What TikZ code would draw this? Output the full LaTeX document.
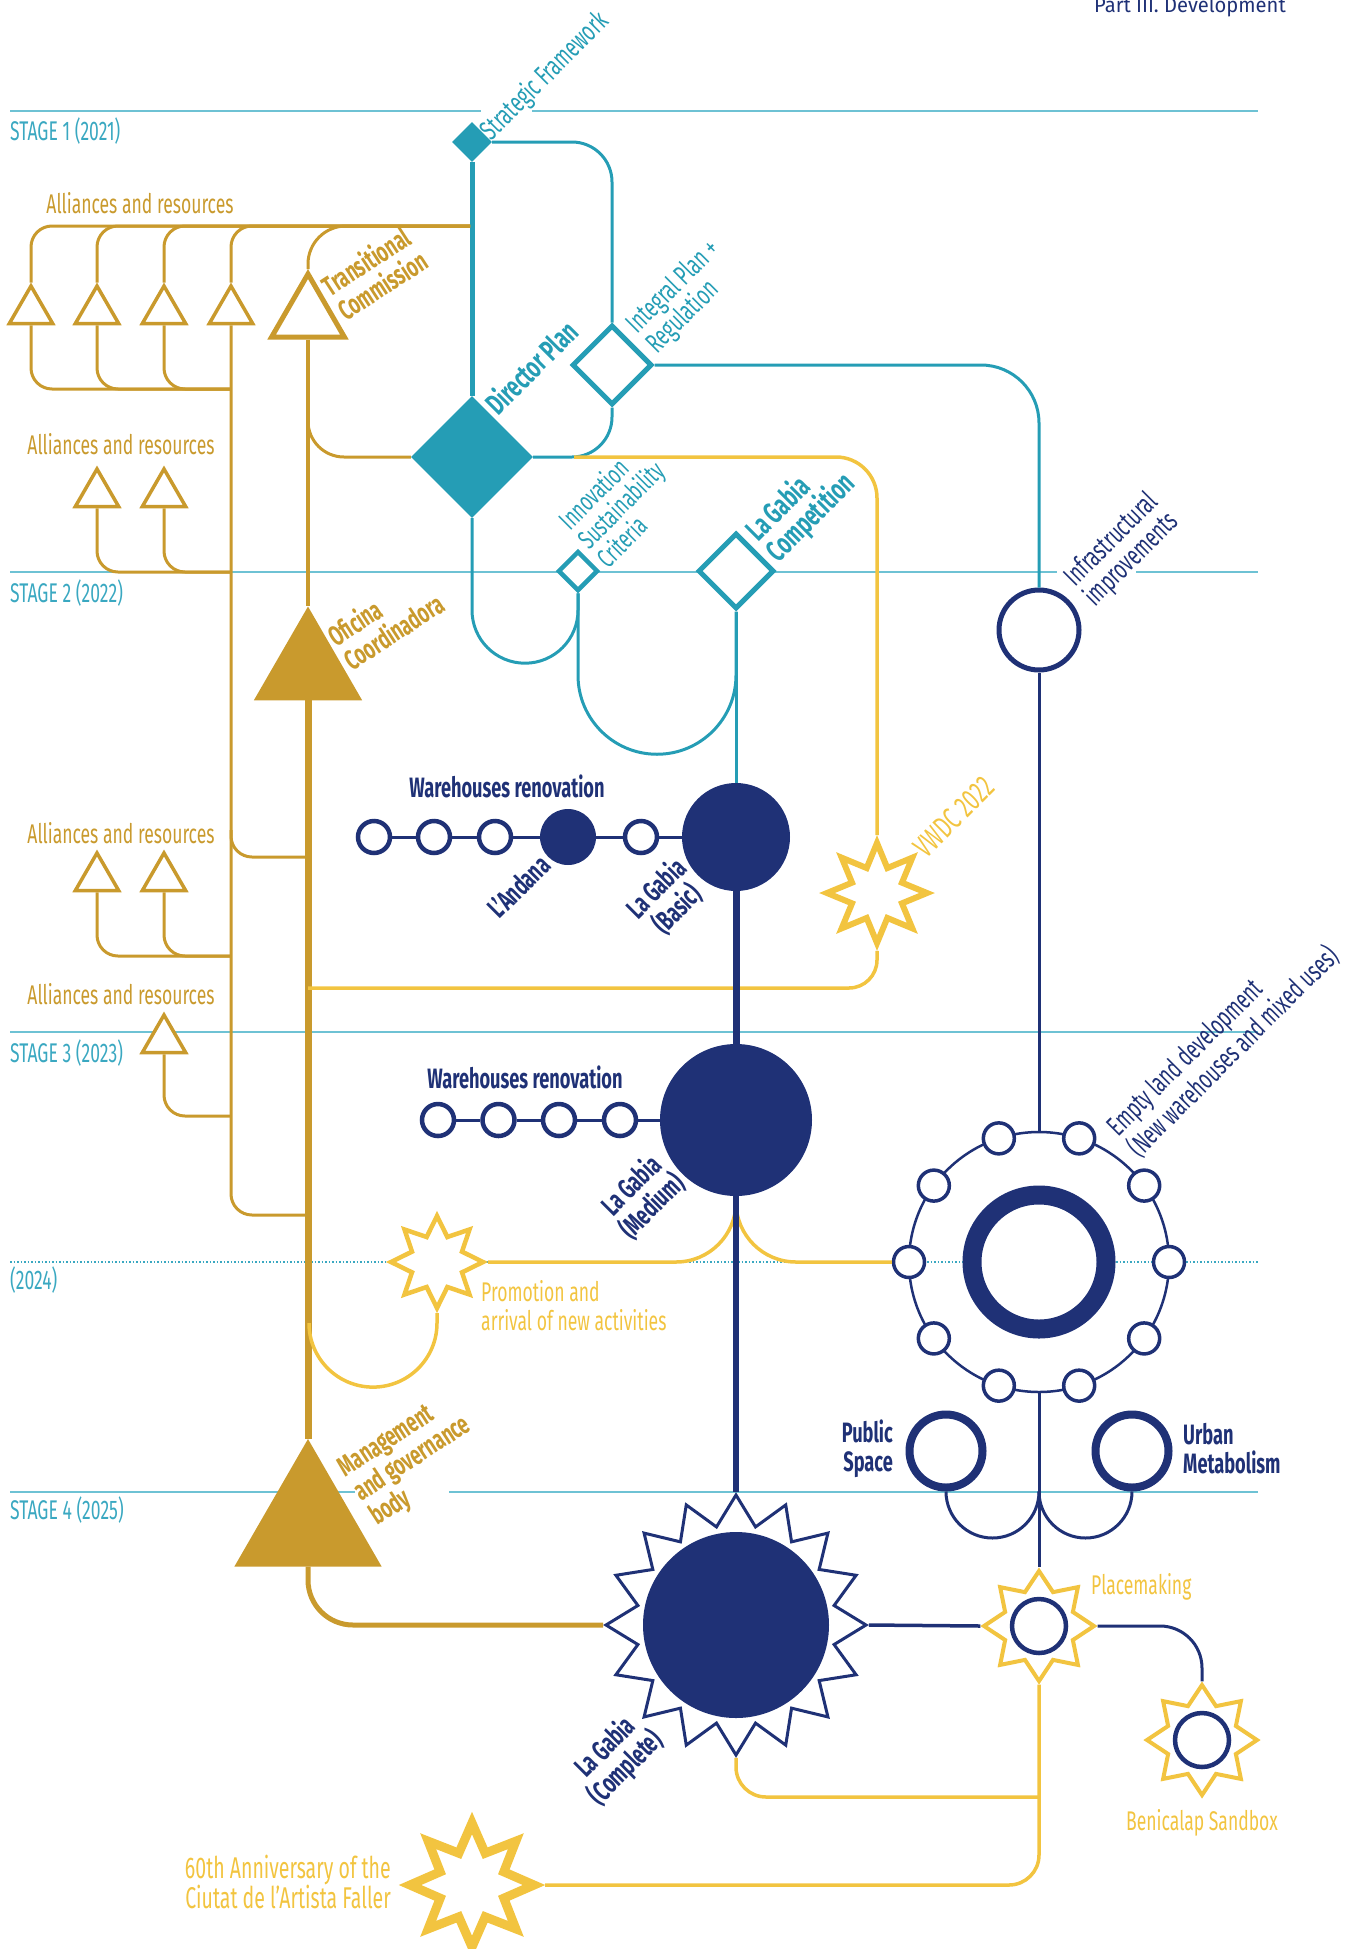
\documentclass[tikz,border=0pt]{standalone}
\usepackage{fontspec}
\setmainfont{Fira Sans}[FakeStretch=0.65]
\newfontfamily\partfont{Fira Sans}[FakeStretch=0.96]
\usetikzlibrary{shapes.geometric}

\definecolor{tealc}{HTML}{259DB5}
\definecolor{stagec}{HTML}{6EC2D4}
\definecolor{stagetxt}{HTML}{3AA8C1}
\definecolor{navyc}{HTML}{1F3176}
\definecolor{goldc}{HTML}{C99A2D}
\definecolor{yellowc}{HTML}{F2C440}

\tikzset{
  lbl/.style={inner sep=0, font=\fontsize{27}{29}\selectfont},
  rlbl/.style={inner sep=0, font=\fontsize{28}{28}\selectfont},
  blbl/.style={inner sep=0, font=\fontsize{28}{29}\selectfont\bfseries},
  stageline/.style={draw=stagec, line width=2},
  triout/.style={regular polygon, regular polygon sides=3, draw=goldc, fill=white, line width=3.5, minimum size=50, inner sep=0},
  trifill/.style={regular polygon, regular polygon sides=3, fill=goldc, inner sep=0},
  whcirc/.style={circle, draw=navyc, fill=white, line width=4.5, minimum size=32, inner sep=0},
  ystar/.style={star, star points=8, draw=yellowc, fill=white, inner sep=0},
  tline/.style={draw=tealc, line width=3},
  gline/.style={draw=goldc, line width=3},
  nline/.style={draw=navyc, line width=3},
  yline/.style={draw=yellowc, line width=3.5},
}

\begin{document}
\begin{tikzpicture}[x=1pt,y=1pt,yscale=-1,xscale=1]
    \useasboundingbox (0,0) rectangle (1360,1949);

    %Straight Lines [stages]
    \draw[stageline] (10,110.5) -- (481,110.5) ;
    \draw[stageline] (532,110.5) -- (1258,110.5) ;
    \draw[stageline] (10,572) -- (1057,572) ;
    \draw[stageline] (1136,572) -- (1258,572) ;
    \draw[stageline] (10,1032) -- (1258,1032) ;
    \draw[stagetxt, line width=1.5, dotted] (10,1262) -- (1258,1262) ;
    \draw[stageline] (10,1492) -- (355,1492) ;
    \draw[stageline] (449,1492) -- (1258,1492) ;

    %Shape: Diamond [teal plans]
    \node[diamond, fill=tealc, minimum size=40, inner sep=0] (sf) at (472,142) {};
    \node[diamond, fill=tealc, minimum size=122, inner sep=0] (dp) at (472,457) {};
    \node[diamond, draw=tealc, fill=white, line width=5, minimum size=80, inner sep=0] (ip) at (612,365) {};
    \node[diamond, draw=tealc, fill=white, line width=4.5, minimum size=40, inner sep=0] (inno) at (578,571) {};
    \node[diamond, draw=tealc, fill=white, line width=5, minimum size=76, inner sep=0] (lgc) at (736,571) {};

    %Shape: Triangle [governance]
    \node[triout, minimum size=84, line width=5] (tc) at (308,316) {};
    \node[trifill, minimum size=125] (of) at (308,669) {};
    \node[trifill, minimum size=170] (mg) at (308,1524) {};
    \foreach \n/\x in {a1/31,a2/97,a3/164,a4/231}
      \node[triout] (\n) at (\x,311) {};
    \node[triout] (b1) at (97,494) {};
    \node[triout] (b2) at (164,494) {};
    \node[triout] (c1) at (97,878) {};
    \node[triout] (c2) at (164,878) {};
    \node[triout] (d1) at (164,1040) {};

    %Shape: Circle [La Gabia and warehouses]
    \node[circle, draw=navyc, fill=white, line width=5, minimum size=80, inner sep=0] (infra) at (1039,630) {};
    \node[circle, fill=navyc, minimum size=108, inner sep=0] (lgb) at (736,837) {};
    \node[circle, fill=navyc, minimum size=152, inner sep=0] (lgm) at (736,1120) {};
    \node[whcirc] (w1) at (374,837) {};
    \node[whcirc] (w2) at (434,837) {};
    \node[whcirc] (w3) at (495,837) {};
    \node[circle, fill=navyc, minimum size=56, inner sep=0] (and) at (568,837) {};
    \node[whcirc] (w5) at (641,837) {};
    \foreach \n/\x in {v1/438,v2/498.5,v3/559,v4/620}
      \node[whcirc] (\n) at (\x,1120) {};

    %Shape: Ring [empty land]
    \node[circle, draw=navyc, line width=2.5, minimum size=260, inner sep=0] (ring) at (1039,1262) {};
    \foreach \k in {0,...,9}
      \path (ring.center) ++(\k*36:130) node[whcirc, line width=3.5, minimum size=31] (e\k) {};
    \node[circle, draw=navyc, fill=white, line width=19, minimum size=134, inner sep=0] (ringin) at (1039,1262) {};
    \node[circle, draw=navyc, fill=white, line width=8, minimum size=73, inner sep=0] (ps) at (946,1451) {};
    \node[circle, draw=navyc, fill=white, line width=8, minimum size=73, inner sep=0] (um) at (1132,1451) {};

    %Shape: Star [La Gabia complete]
    \node[star, star points=16, star point ratio=1.3, draw=navyc, fill=white, line width=3, minimum size=260, inner sep=0] (lgcs) at (736,1625) {};
    \node[circle, fill=navyc, minimum size=186, inner sep=0] (lgcc) at (736,1625) {};

    %Shape: Star [events]
    \node[ystar, line width=4, minimum size=110, star point ratio=1.5] (pm) at (1039,1626) {};
    \node[circle, draw=navyc, fill=white, line width=4.5, minimum size=54, inner sep=0] (pmc) at (1039,1626) {};
    \node[ystar, line width=4, minimum size=110, star point ratio=1.5] (ben) at (1202,1740) {};
    \node[circle, draw=navyc, fill=white, line width=4.5, minimum size=54, inner sep=0] (benc) at (1202,1740) {};
    \node[ystar, line width=6, minimum size=100, star point ratio=1.85] (vwdc) at (877,893) {};
    \node[ystar, line width=4.5, minimum size=92, star point ratio=1.7] (promo) at (437,1262) {};
    \node[ystar, line width=9, minimum size=124, star point ratio=1.8] (anniv) at (472,1885) {};

    %Coordinates [joints]
    \coordinate (gtop) at (470,226);
    \coordinate (gb1) at (231,389);
    \coordinate (gb2) at (231,572);
    \coordinate (gb3) at (231,956);
    \coordinate (gb4) at (231,1116);
    \coordinate (gt1) at (308,1215);
    \coordinate (tb) at (231,830);
    \coordinate (gt2) at (308,857);
    \coordinate (gdp) at (308,400);
    \coordinate (ydp) at (574,457);
    \coordinate (yv) at (308,988);
    \coordinate (yj) at (1039,1797);

    %Straight Lines [teal]
    \draw[tline, line width=5] (sf.south) -- (dp.north) ;
    \draw[tline, rounded corners=40] (sf.east) -| (ip.north) ;
    \draw[tline, rounded corners=40] (dp.east) -| (ip.south) ;
    \draw[tline, rounded corners=58] (ip.east) -| (infra.north) ;
    \draw[tline] (dp.south) -- ++(0,92) arc (180:0:53) -- (inno.south) ;
    \draw[tline] (inno.south) -- ++(0,82) arc (180:0:79) -- (lgc.south) ;
    \draw[tline] (lgc.south) -- (lgb.north) ;

    %Straight Lines [gold]
    \foreach \n in {a1,a2,a3,a4}
      \draw[gline, rounded corners=21] (\n.north) |- (gtop) ;
    \draw[gline, rounded corners=38] (tc.north) |- (gtop) ;
    \foreach \n in {a1,a2,a3}
      \draw[gline, rounded corners=21] (\n.south) |- (gb1) ;
    \draw[gline, rounded corners=21] (a4.south) |- (gt1) ;
    \draw[gline, rounded corners=21] (tb) |- (gt2) ;
    \draw[gline, rounded corners=21] (b1.south) |- (gb2) ;
    \draw[gline, rounded corners=21] (b2.south) |- (gb2) ;
    \draw[gline, rounded corners=21] (c1.south) |- (gb3) ;
    \draw[gline, rounded corners=21] (c2.south) |- (gb3) ;
    \draw[gline, rounded corners=21] (d1.south) |- (gb4) ;
    \draw[gline, line width=3.5] (tc.south) -- (of.north) ;
    \draw[gline, rounded corners=36] (dp.west) -| (gdp) ;
    \draw[gline, line width=7] (of.south) -- (mg.north) ;
    \draw[gline, line width=5, rounded corners=45] (mg.south) |- (lgcs.west) ;

    %Straight Lines [yellow]
    \draw[yline, rounded corners=41] (ydp) -| (vwdc.north) ;
    \draw[yline, rounded corners=28] (vwdc.south) |- (yv) ;
    \draw[yline, rounded corners=60] (lgm.south) |- (promo.east) ;
    \draw[yline, rounded corners=60] (lgm.south) |- (e5.west) ;
    \draw[yline] (promo.south) -- ++(0,10) arc (0:180:64) ;
    \draw[yline, rounded corners=30] (pm.south) |- (anniv.east) ;
    \draw[yline, rounded corners=30] (lgcs.south) |- (yj) ;

    %Straight Lines [navy]
    \draw[nline, line width=7] (lgb.south) -- (lgm.north) ;
    \draw[nline, line width=6] (lgm.south) -- (lgcs.north) ;
    \draw[nline] (infra.south) -- (ring.north) ;
    \draw[nline] (ring.south) -- (pm.north) ;
    \draw[nline] (ps.south) arc (180:0:46.5) ;
    \draw[nline] (um.south) arc (0:180:46.5) ;
    \draw[nline, line width=3.5] (lgcs.east) -- (pm.west) ;
    \draw[nline, rounded corners=42] (pm.east) -| (ben.north) ;
    \draw[nline] (w1) -- (w2) -- (w3) -- (and) -- (w5) -- (lgb) ;
    \draw[nline] (v1) -- (v2) -- (v3) -- (v4) -- (lgm) ;

    % Text Node
    \node[inner sep=0, text=navyc, anchor=base east, font=\fontsize{21}{23}\partfont] (part) at (1286,12) {Part III. Development};
    % Text Node
    \node[lbl, text=stagetxt, anchor=west] (s1) at (10,131) {STAGE 1 (2021)};
    \node[lbl, text=stagetxt, anchor=west] (s2) at (10,593) {STAGE 2 (2022)};
    \node[lbl, text=stagetxt, anchor=west] (s3) at (10,1053) {STAGE 3 (2023)};
    \node[lbl, text=stagetxt, anchor=west] (s35) at (10,1280) {(2024)};
    \node[lbl, text=stagetxt, anchor=west] (s4) at (10,1510) {STAGE 4 (2025)};
    % Text Node
    \node[lbl, text=goldc] (all1) at (140,203) {Alliances and resources};
    \node[lbl, text=goldc] (all2) at (121,444) {Alliances and resources};
    \node[lbl, text=goldc] (all3) at (121,833) {Alliances and resources};
    \node[lbl, text=goldc] (all4) at (121,994) {Alliances and resources};
    % Text Node
    \node[rlbl, text=tealc, rotate=45, anchor=west] (sft) at (486,136) {Strategic Framework};
    \node[blbl, text=tealc, rotate=45, anchor=west, font=\fontsize{30}{30}\selectfont\bfseries] (dpt) at (490,408) {Director Plan};
    \node[rlbl, text=tealc, rotate=45, anchor=west, align=left] (ipt) at (642,339) {Integral Plan +\\Regulation};
    \node[rlbl, text=tealc, rotate=45, anchor=west, align=left, font=\fontsize{27}{27}\selectfont] (innot) at (582,543) {Innovation\\Sustainability\\Criteria};
    \node[blbl, text=tealc, rotate=45, anchor=west, align=left, font=\fontsize{30}{29}\selectfont\bfseries] (lgct) at (762,547) {La Gabia\\Competition};
    \node[rlbl, text=navyc, rotate=45, anchor=west, align=left] (inft) at (1080,592) {Infrastructural\\improvements};
    \node[rlbl, text=yellowc, rotate=45, anchor=west, font=\fontsize{31}{31}\selectfont] (vwdct) at (919,852) {VWDC 2022};
    % Text Node
    \node[blbl, text=goldc, rotate=33, anchor=west, align=left] (tct) at (332,300) {Transitional\\Commission};
    \node[blbl, text=goldc, rotate=33, anchor=west, align=left] (oft) at (338,650) {Oficina\\Coordinadora};
    \node[blbl, text=goldc, rotate=33, anchor=west, align=left] (mgt) at (358,1496) {Management\\and governance\\body};
    % Text Node
    \node[blbl, text=navyc] (wr1) at (507,786) {Warehouses renovation};
    \node[blbl, text=navyc] (wr2) at (525,1077) {Warehouses renovation};
    \node[blbl, text=navyc, rotate=45, anchor=east] (andt) at (545,860) {L’Andana};
    \node[blbl, text=navyc, rotate=45, align=center] (lgbt) at (667,899) {La Gabia\\(Basic)};
    \node[blbl, text=navyc, rotate=45, align=center] (lgmt) at (642,1196) {La Gabia\\(Medium)};
    \node[blbl, text=navyc, rotate=45, align=center] (lgcst) at (616,1758) {La Gabia\\(Complete)};
    \node[rlbl, text=navyc, rotate=45, anchor=west, align=left] (emptyt) at (1123,1142) {Empty land development\\(New warehouses and mixed uses)};
    \node[blbl, text=navyc, anchor=east, align=right] (pst) at (893,1449) {Public\\Space};
    \node[blbl, text=navyc, anchor=west, align=left] (umt) at (1183,1449) {Urban\\Metabolism};
    % Text Node
    \node[lbl, text=yellowc, anchor=west] (pmt) at (1091,1587) {Placemaking};
    \node[lbl, text=yellowc] (bent) at (1202,1823) {Benicalap Sandbox};
    \node[lbl, text=yellowc, anchor=west, align=left] (promot) at (481,1306) {Promotion and\\arrival of new activities};
    \node[lbl, text=yellowc, anchor=east, align=right, font=\fontsize{30}{29}\selectfont] (annivt) at (391,1882) {60th Anniversary of the\\Ciutat de l’Artista Faller};

\end{tikzpicture}
\end{document}
